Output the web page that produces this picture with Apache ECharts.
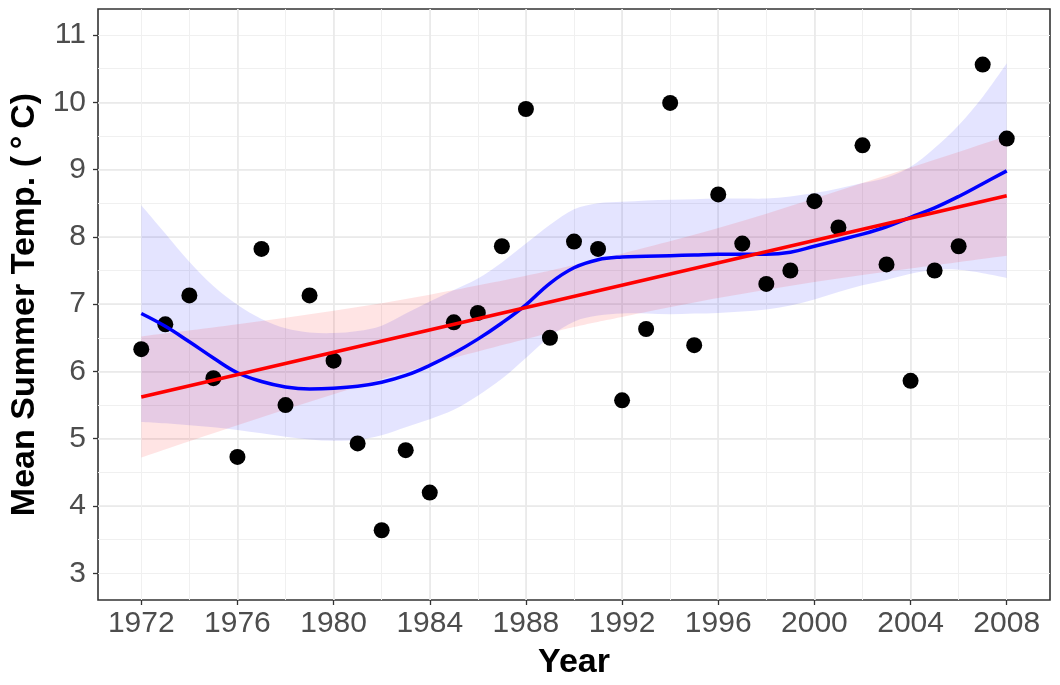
<!DOCTYPE html>
<html>
<head>
<meta charset="utf-8">
<title>Mean Summer Temp.</title>
<script src="https://cdn.jsdelivr.net/npm/echarts@6/dist/echarts.min.js"></script>
<style>
  html, body { margin: 0; padding: 0; background: #fff; }
  #chart { width: 1060px; height: 685px; }
</style>
</head>
<body>
<div id="chart"></div>
<script>
// observed points, one per year
const years = [1972, 1973, 1974, 1975, 1976, 1977, 1978, 1979, 1980, 1981,
  1982, 1983, 1984, 1985, 1986, 1987, 1988, 1989, 1990, 1991,
  1992, 1993, 1994, 1995, 1996, 1997, 1998, 1999, 2000, 2001,
  2002, 2003, 2004, 2005, 2006, 2007, 2008];
const meanTemp = [6.33, 6.70, 7.13, 5.90, 4.73, 7.82, 5.50, 7.13, 6.16, 4.93,
  3.64, 4.83, 4.20, 6.73, 6.87, 7.86, 9.90, 6.50, 7.93, 7.82,
  5.57, 6.63, 9.99, 6.39, 8.63, 7.90, 7.30, 7.50, 8.53, 8.14,
  9.36, 7.59, 5.86, 7.50, 7.86, 10.56, 9.46];

// loess smooth (blue) and its band, read per year
const loessFit = [6.86, 6.67, 6.44, 6.20, 5.98, 5.85, 5.77, 5.74, 5.75, 5.78,
  5.84, 5.94, 6.09, 6.27, 6.48, 6.72, 6.99, 7.31, 7.54, 7.66,
  7.70, 7.71, 7.72, 7.73, 7.74, 7.74, 7.74, 7.77, 7.86, 7.95,
  8.04, 8.15, 8.29, 8.43, 8.60, 8.79, 8.98];
const loessLower = [5.25, 5.23, 5.20, 5.17, 5.13, 5.08, 5.03, 4.99, 4.97, 4.98,
  5.05, 5.17, 5.29, 5.43, 5.64, 5.89, 6.20, 6.52, 6.74, 6.83,
  6.86, 6.86, 6.85, 6.86, 6.87, 6.89, 6.92, 6.98, 7.07, 7.18,
  7.28, 7.36, 7.45, 7.51, 7.51, 7.46, 7.39];
const loessUpper = [8.47, 8.05, 7.63, 7.27, 6.99, 6.78, 6.64, 6.58, 6.57, 6.60,
  6.68, 6.86, 7.04, 7.21, 7.38, 7.62, 7.90, 8.18, 8.41, 8.50,
  8.52, 8.54, 8.55, 8.56, 8.57, 8.57, 8.57, 8.60, 8.65, 8.72,
  8.80, 8.88, 9.04, 9.32, 9.66, 10.08, 10.58];

// linear fit (red) and its band
const lmYears = [1972, 2008];
const lmFit = [5.62, 8.61];
const lmBandYears = [1972, 1976, 1980, 1984, 1988, 1990, 1992, 1996, 2000, 2004, 2008];
const lmLower = [4.72, 5.20, 5.66, 6.10, 6.48, 6.66, 6.81, 7.09, 7.33, 7.53, 7.72];
const lmUpper = [6.52, 6.70, 6.90, 7.14, 7.42, 7.58, 7.75, 8.13, 8.57, 9.03, 9.50];

// tick labels
const xTicks = [1972, 1976, 1980, 1984, 1988, 1992, 1996, 2000, 2004, 2008];
const yTicks = [3, 4, 5, 6, 7, 8, 9, 10, 11];

const FONT = '"Liberation Sans", Arial, Helvetica, sans-serif';
const X_MIN = 1970.2, X_MAX = 2009.8;
const Y_MIN = 2.603, Y_MAX = 11.386;

const zip = (xs, ys) => xs.map((x, i) => [x, ys[i]]);

// smooth curve (catmull-rom as cubic beziers) through pixel points
const curveThrough = pts => {
  let d = '';
  for (let i = 0; i < pts.length - 1; i++) {
    const p0 = pts[Math.max(i - 1, 0)], p1 = pts[i], p2 = pts[i + 1];
    const p3 = pts[Math.min(i + 2, pts.length - 1)];
    const c1 = [p1[0] + (p2[0] - p0[0]) / 6, p1[1] + (p2[1] - p0[1]) / 6];
    const c2 = [p2[0] - (p3[0] - p1[0]) / 6, p2[1] - (p3[1] - p1[1]) / 6];
    d += ` C${c1[0]},${c1[1]} ${c2[0]},${c2[1]} ${p2[0]},${p2[1]}`;
  }
  return d;
};

// confidence ribbon drawn as one closed path, positioned through the axes
const band = (xs, lower, upper, color) => ({
  type: 'custom',
  data: [[xs[0], lower[0]]],
  clip: true,
  silent: true,
  renderItem: (params, api) => {
    const up = xs.map((x, i) => api.coord([x, upper[i]]));
    const lo = xs.map((x, i) => api.coord([x, lower[i]])).reverse();
    const pathData = `M${up[0][0]},${up[0][1]}` + curveThrough(up)
      + ` L${lo[0][0]},${lo[0][1]}` + curveThrough(lo) + ' Z';
    return { type: 'path', shape: { pathData }, style: { fill: color, stroke: null } };
  }
});

// grid lines only, the panel border is drawn by the grid itself
const gridLines = (color, width) => ({
  show: true, showMinLine: false, showMaxLine: false,
  lineStyle: { color, width }
});

const chart = echarts.init(document.getElementById('chart'), null, { renderer: 'canvas' });

chart.setOption({
  animation: false,
  textStyle: { fontFamily: FONT },
  grid: {
    left: 98, right: 10, top: 9, bottom: 85,
    show: true, borderColor: '#333333', borderWidth: 1.6, backgroundColor: '#fff',
    containLabel: false, outerBoundsMode: 'none'
  },
  xAxis: [
    {
      // minor grid, every 2 years
      type: 'value', position: 'bottom', min: X_MIN, max: X_MAX,
      minInterval: 2, maxInterval: 2,
      axisLine: { show: false }, axisTick: { show: false }, axisLabel: { show: false },
      splitLine: gridLines('#f0f0f0', 1)
    },
    {
      // major grid, ticks and labels
      type: 'value', position: 'bottom', min: X_MIN, max: X_MAX,
      minInterval: 4, maxInterval: 4,
      axisLine: { show: false },
      axisTick: { show: true, length: 5, customValues: xTicks, lineStyle: { color: '#333333', width: 1.3 } },
      axisLabel: {
        customValues: xTicks, fontSize: 30, color: '#4d4d4d', margin: 9, fontFamily: FONT,
        formatter: v => String(v)
      },
      splitLine: gridLines('#e9e9e9', 1.6),
      name: 'Year', nameLocation: 'middle', nameGap: 46,
      nameTextStyle: { fontSize: 34, fontWeight: 'bold', color: '#000', fontFamily: FONT }
    }
  ],
  yAxis: [
    {
      type: 'value', position: 'left', min: Y_MIN, max: Y_MAX,
      minInterval: 0.5, maxInterval: 0.5,
      axisLine: { show: false }, axisTick: { show: false }, axisLabel: { show: false },
      splitLine: gridLines('#f0f0f0', 1)
    },
    {
      type: 'value', position: 'left', min: Y_MIN, max: Y_MAX,
      minInterval: 1, maxInterval: 1,
      axisLine: { show: false },
      axisTick: { show: true, length: 5, customValues: yTicks, lineStyle: { color: '#333333', width: 1.3 } },
      axisLabel: {
        customValues: yTicks, fontSize: 30, color: '#4d4d4d', margin: 12, fontFamily: FONT,
        formatter: v => String(v)
      },
      splitLine: gridLines('#e9e9e9', 1.6),
      name: 'Mean Summer Temp. (\u2009°\u2009C)', nameLocation: 'middle', nameRotate: 90, nameGap: 52,
      nameTextStyle: { fontSize: 34, fontWeight: 'bold', color: '#000', fontFamily: FONT }
    }
  ],
  series: [
    {
      type: 'scatter', data: zip(years, meanTemp),
      symbol: 'circle', symbolSize: 16,
      itemStyle: { color: '#000000', opacity: 1 }
    },
    band(years, loessLower, loessUpper, 'rgba(0,0,255,0.105)'),
    band(lmBandYears, lmLower, lmUpper, 'rgba(255,0,0,0.105)'),
    {
      type: 'line', data: zip(years, loessFit),
      smooth: 0.4, showSymbol: false, silent: true,
      lineStyle: { color: '#0000ff', width: 3.5 }
    },
    {
      type: 'line', data: zip(lmYears, lmFit),
      showSymbol: false, silent: true,
      lineStyle: { color: '#ff0000', width: 3.5 }
    }
  ]
});
</script>
</body>
</html>
